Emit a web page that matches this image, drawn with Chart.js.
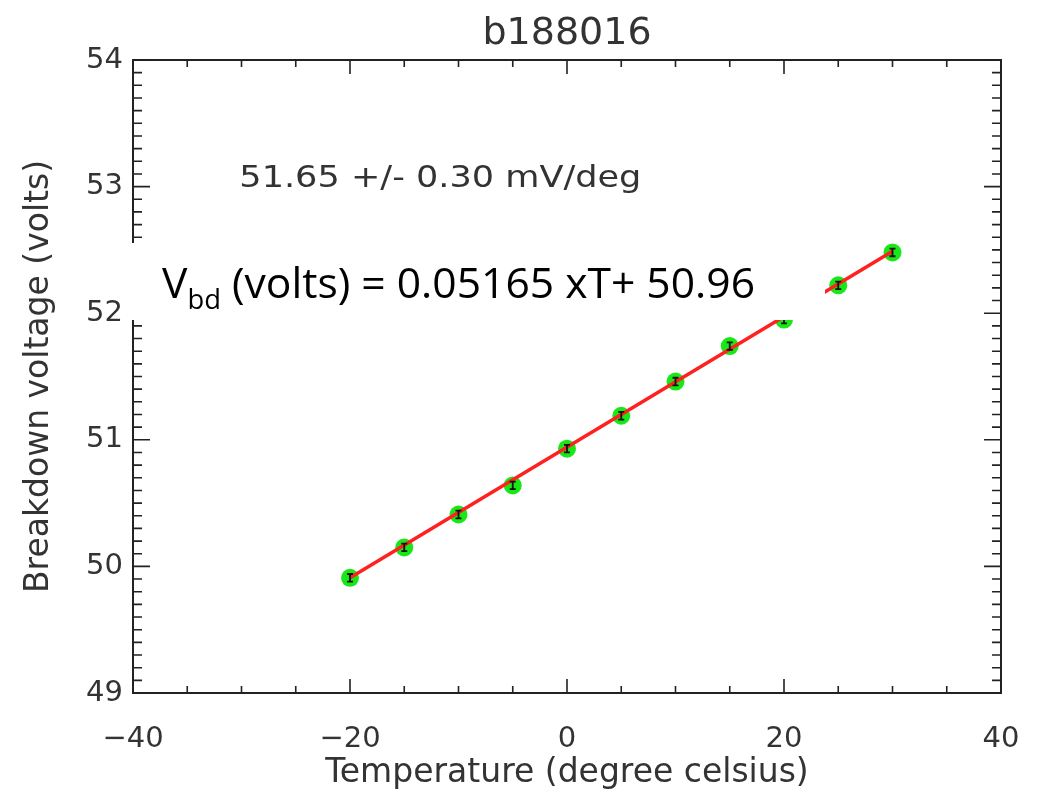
<!DOCTYPE html>
<html>
<head>
<meta charset="utf-8">
<script src="https://cdn.jsdelivr.net/npm/chart.js@4.4.1/dist/chart.umd.min.js"></script>
<style>
  html, body { margin: 0; padding: 0; background: #fff; }
</style>
</head>
<body>
<canvas id="grafico" width="1038" height="794"></canvas>
<script>
// Datos (temperatura en °C, voltaje de ruptura en V)
const temps = [-20, -15, -10, -5, 0, 5, 10, 15, 20, 25, 30];
const vbd = [49.91, 50.15, 50.41, 50.64, 50.93, 51.19, 51.46, 51.74, 51.95, 52.22, 52.48];
const vbdErr = [0.03, 0.03, 0.03, 0.03, 0.03, 0.03, 0.03, 0.03, 0.03, 0.03, 0.03];

// Recta de ajuste
const fitT = [-20, 30];
const fitV = [49.91, 52.49];

// Etiquetas de ejes
const xTicks = [-40, -20, 0, 20, 40];
const yTicks = [49, 50, 51, 52, 53, 54];

const titulo = 'b188016';
const textoPendiente = '51.65 +/- 0.30 mV/deg';
const ecuacionSub = 'bd';
const ecuacionResto = ' (volts) = 0.05165 xT+ 50.96';

const colorTexto = '#333';
const fuenteIDL = '"DejaVu Sans", sans-serif';

// Título centrado sobre el área del gráfico
const tituloPlugin = {
    id: 'tituloIDL',
    afterDraw(chart) {
        const { ctx, chartArea: a } = chart;
        ctx.save();
        ctx.font = '38px ' + fuenteIDL;
        ctx.fillStyle = colorTexto;
        ctx.textAlign = 'center';
        ctx.textBaseline = 'alphabetic';
        ctx.fillText(titulo, (a.left + a.right) / 2, 44);
        ctx.restore();
    }
};

// Marco completo + marcas de graduación hacia dentro (estilo IDL)
const marcoPlugin = {
    id: 'marco',
    beforeDatasetsDraw(chart) {
        const { ctx, chartArea: a, scales: { x, y } } = chart;
        ctx.save();
        ctx.strokeStyle = '#222';
        ctx.lineWidth = 2;
        ctx.strokeRect(a.left, a.top, a.right - a.left, a.bottom - a.top);
        ctx.lineWidth = 1.6;
        ctx.beginPath();
        for (let t = -40; t <= 40; t += 5) {
            const px = x.getPixelForValue(t);
            const len = (t % 20 === 0) ? 14 : 7;
            ctx.moveTo(px, a.bottom); ctx.lineTo(px, a.bottom - len);
            ctx.moveTo(px, a.top); ctx.lineTo(px, a.top + len);
        }
        for (let i = 0; i <= 50; i++) {
            const v = 49 + i / 10;
            const py = y.getPixelForValue(v);
            const len = (i % 10 === 0) ? 17 : 9;
            ctx.moveTo(a.left, py); ctx.lineTo(a.left + len, py);
            ctx.moveTo(a.right, py); ctx.lineTo(a.right - len, py);
        }
        ctx.stroke();
        ctx.restore();
    }
};

// Barras de error negras sobre cada punto
const erroresPlugin = {
    id: 'errores',
    afterDatasetsDraw(chart) {
        const { ctx, scales: { x, y } } = chart;
        ctx.save();
        ctx.strokeStyle = '#111';
        ctx.lineWidth = 1.8;
        ctx.beginPath();
        temps.forEach((t, i) => {
            const px = x.getPixelForValue(t);
            const y1 = y.getPixelForValue(vbd[i] + vbdErr[i]);
            const y2 = y.getPixelForValue(vbd[i] - vbdErr[i]);
            ctx.moveTo(px, y1); ctx.lineTo(px, y2);
            ctx.moveTo(px - 3, y1); ctx.lineTo(px + 3, y1);
            ctx.moveTo(px - 3, y2); ctx.lineTo(px + 3, y2);
        });
        ctx.stroke();
        ctx.restore();
    }
};

// Texto de la pendiente y recuadro blanco con la ecuación
const anotacionesPlugin = {
    id: 'anotaciones',
    afterDraw(chart) {
        const { ctx, scales: { x, y } } = chart;
        ctx.save();

        // pendiente
        ctx.font = '30px ' + fuenteIDL;
        ctx.fillStyle = colorTexto;
        ctx.textBaseline = 'alphabetic';
        const w0 = ctx.measureText(textoPendiente).width;
        ctx.translate(x.getPixelForValue(-30.2), y.getPixelForValue(53.0));
        ctx.scale(402 / w0, 1);
        ctx.fillText(textoPendiente, 0, 0);
        ctx.restore();

        // recuadro pegado encima
        ctx.save();
        ctx.fillStyle = '#fff';
        ctx.fillRect(125, 243, 700, 77);
        ctx.fillStyle = '#000';
        const fMain = '42px "Open Sans", sans-serif';
        const fSub = '27px "Open Sans", sans-serif';
        ctx.font = fMain;
        const wV = ctx.measureText('V').width;
        const wR = ctx.measureText(ecuacionResto).width;
        ctx.font = fSub;
        const wS = ctx.measureText(ecuacionSub).width;
        const sx = 593 / (wV + wS + wR);
        ctx.translate(162, 298);
        ctx.scale(sx, 1);
        ctx.font = fMain;
        ctx.fillText('V', 0, 0);
        ctx.font = fSub;
        ctx.fillText(ecuacionSub, wV, 11);
        ctx.font = fMain;
        ctx.fillText(ecuacionResto, wV + wS, 0);
        ctx.restore();
    }
};

const ctx = document.getElementById('grafico').getContext('2d');
new Chart(ctx, {
    type: 'scatter',
    data: {
        datasets: [
            {
                label: 'Ajuste',
                data: fitT.map((t, i) => ({ x: t, y: fitV[i] })),
                showLine: true,
                borderColor: '#ff2020',
                borderWidth: 3.5,
                pointRadius: 0,
                order: 0
            },
            {
                label: 'Medidas',
                data: temps.map((t, i) => ({ x: t, y: vbd[i] })),
                backgroundColor: '#18e818',
                borderWidth: 0,
                pointRadius: 9,
                order: 1
            }
        ]
    },
    options: {
        responsive: false,
        animation: false,
        layout: { padding: { left: 0, right: 37, top: 60, bottom: 0 } },
        plugins: {
            legend: { display: false },
            tooltip: { enabled: false },
            title: { display: false }
        },
        scales: {
            x: {
                type: 'linear',
                min: -40,
                max: 40,
                afterBuildTicks: s => { s.ticks = xTicks.map(v => ({ value: v })); },
                afterFit: s => { s.height = 101; s.paddingLeft = 0; s.paddingRight = 0; },
                grid: { display: false, drawTicks: false },
                border: { display: false },
                ticks: {
                    padding: 29,
                    maxRotation: 0,
                    color: colorTexto,
                    font: { family: fuenteIDL, size: 29 },
                    callback: v => String(v).replace('-', '\u2212')
                },
                title: {
                    display: true,
                    text: 'Temperature (degree celsius)',
                    color: colorTexto,
                    font: { family: fuenteIDL, size: 33 },
                    padding: { top: 0, bottom: 1 }
                }
            },
            y: {
                type: 'linear',
                min: 49,
                max: 54,
                afterBuildTicks: s => { s.ticks = yTicks.map(v => ({ value: v })); },
                afterFit: s => { s.width = 133; s.paddingTop = 0; s.paddingBottom = 0; },
                grid: { display: false, drawTicks: false },
                border: { display: false },
                ticks: {
                    padding: 10,
                    color: colorTexto,
                    font: { family: fuenteIDL, size: 29 }
                },
                title: {
                    display: true,
                    text: 'Breakdown voltage (volts)',
                    color: colorTexto,
                    font: { family: fuenteIDL, size: 33 },
                    padding: { top: 20, bottom: 0 }
                }
            }
        }
    },
    plugins: [marcoPlugin, erroresPlugin, tituloPlugin, anotacionesPlugin]
});
</script>
</body>
</html>
